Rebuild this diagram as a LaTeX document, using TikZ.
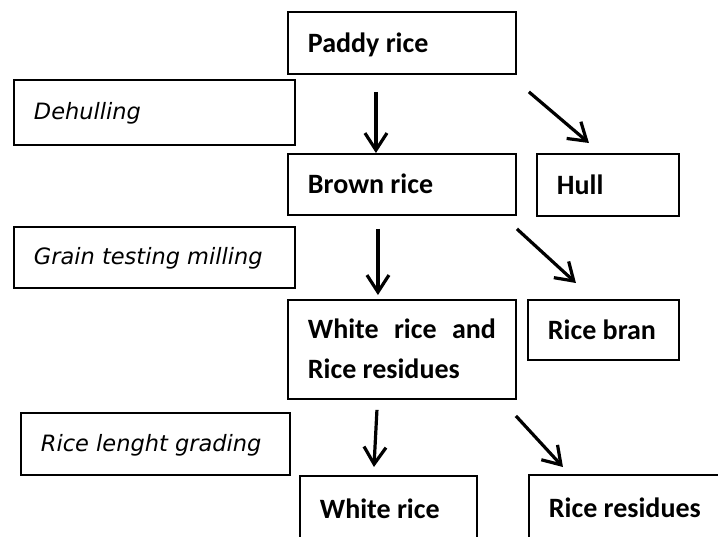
\documentclass[tikz,border=0pt]{standalone}
\usepackage{fontspec}
\setmainfont{Carlito}
\newfontfamily\labelfont{DejaVu Sans}
\usetikzlibrary{arrows.meta}
\tolerance=10000

\begin{document}
\begin{tikzpicture}[x=1pt,y=-1pt,>={Straight Barb[length=17pt,width=22pt]}]
\tikzstyle{every node}=[draw,line width=1.9pt,anchor=north west,inner xsep=20pt,inner ysep=0pt,align=flush left]
\tikzstyle{product}=[font=\bfseries\fontsize{28}{40}\selectfont,text height=24pt,text depth=5.6pt]
\tikzstyle{process}=[font=\labelfont\itshape\fontsize{22.5}{27}\selectfont,text height=19pt,text depth=4pt]
\tikzstyle{arr}=[->,line width=3.2pt]
\useasboundingbox (0,0) rectangle (718,536);
\clip (0,0) rectangle (718,536);

\node[product,text width=188pt,minimum height=62pt] (paddy) at (287,11) {Paddy rice};
\node[process,text width=241pt,minimum height=65pt] (dehull) at (13,79) {Dehulling};
\node[product,text width=188pt,minimum height=61pt] (brown) at (287,153) {Brown rice};
\node[product,text width=102pt,minimum height=62pt] (hull) at (536,153) {Hull};
\node[process,text width=241pt,minimum height=61pt] (milling) at (13,226) {Grain testing milling};
\node[product,text width=188pt,minimum height=99pt,text depth=45pt,align=justify] (mixed) at (287,299) {White rice and Rice residues};
\node[product,text width=111pt,minimum height=60pt] (bran) at (527,299) {Rice bran};
\node[process,text width=229pt,minimum height=62pt] (grading) at (20,412) {Rice lenght grading};
\node[product,text width=137pt,minimum height=66pt] (white) at (299,475) {White rice};
\node[product,text width=160pt,minimum height=66pt] (residues) at (528,474) {Rice residues};

\path[arr] ([xshift=-26pt,yshift=-17pt]paddy.south) edge ([xshift=-26pt]brown.north);
\path[arr] ([xshift=12pt,yshift=-17pt]paddy.south east) edge ([xshift=-19pt,yshift=10pt]hull.north);

\path[arr] ([xshift=-24pt,yshift=-13pt]brown.south) edge ([xshift=-24pt,yshift=4pt]mixed.north);
\path[arr] ([yshift=-13pt]brown.south east) edge ([xshift=-27.5pt,yshift=16pt]bran.north);

\path[arr] ([xshift=-25pt,yshift=-10pt]mixed.south) edge ([xshift=-14.5pt,yshift=8pt]white.north);
\path[arr] ([xshift=-1pt,yshift=-16pt]mixed.south east) edge ([xshift=-66pt,yshift=7pt]residues.north);

\end{tikzpicture}
\end{document}
